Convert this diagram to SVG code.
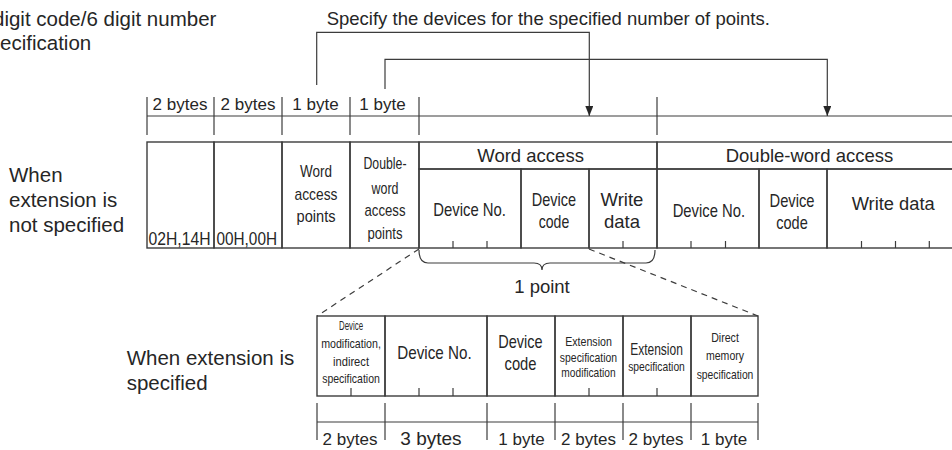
<svg xmlns="http://www.w3.org/2000/svg" width="952" height="450" viewBox="0 0 952 450">
<style>
text{font-family:"Liberation Sans",Arial,Helvetica,sans-serif;fill:#262626}
.c{text-anchor:middle}
.b{stroke:#3c3c3c;stroke-width:1.4;fill:none}
.k{stroke:#3c3c3c;stroke-width:1.2;fill:none}
.d{stroke:#3c3c3c;stroke-width:1.2;fill:none;stroke-dasharray:6 5}
.f17{font-size:17px}
.f18{font-size:18.5px}
.f13{font-size:13px}
</style>
<defs>
<marker id="ah" viewBox="0 0 10 8" refX="10" refY="4" markerWidth="10" markerHeight="8" markerUnits="userSpaceOnUse" orient="auto">
<path d="M0,0 L10,4 L0,8 z" fill="#262626"/>
</marker>
</defs>

<g id="labels">
<text x="-7" y="26" style="font-size:20.5px">digit code/6 digit number</text>
<text x="-21.6" y="50" style="font-size:20.5px">specification</text>
<text x="326.7" y="25" class="f18">Specify the devices for the specified number of points.</text>
<text x="9" y="181.7" style="font-size:20.5px">When</text>
<text x="9" y="206.7" style="font-size:20.5px">extension is</text>
<text x="9" y="231.7" style="font-size:20.5px">not specified</text>
<text x="126.7" y="365" style="font-size:20.5px">When extension is</text>
<text x="126.7" y="390" style="font-size:20.5px">specified</text>
<text x="542" y="292.5" class="c f18">1 point</text>
</g>

<g id="top-bytes">
<line class="k" x1="147" y1="116" x2="952" y2="116"/>
<line class="k" x1="147" y1="97" x2="147" y2="135"/>
<line class="k" x1="214" y1="97" x2="214" y2="135"/>
<line class="k" x1="282" y1="97" x2="282" y2="135"/>
<line class="k" x1="350" y1="97" x2="350" y2="135"/>
<line class="k" x1="419" y1="97" x2="419" y2="135"/>
<line class="k" x1="657" y1="97" x2="657" y2="135"/>
<text x="180" y="109.5" class="c f17">2 bytes</text>
<text x="248" y="109.5" class="c f17">2 bytes</text>
<text x="315.5" y="109.5" class="c f17">1 byte</text>
<text x="382.5" y="109.5" class="c f17">1 byte</text>
</g>

<g id="n-0214">
<rect class="b" x="147" y="142" width="67" height="106"/>
<text x="148.5" y="245" textLength="62" lengthAdjust="spacingAndGlyphs" style="font-size:19px">02H,14H</text>
</g>
<g id="n-0000">
<rect class="b" x="214" y="142" width="68" height="106"/>
<text x="216.5" y="245" textLength="60.5" lengthAdjust="spacingAndGlyphs" style="font-size:19px">00H,00H</text>
</g>
<g id="n-wap">
<rect class="b" x="282" y="142" width="68" height="106"/>
<text x="316" y="176.7" class="c" style="font-size:17px" textLength="32" lengthAdjust="spacingAndGlyphs">Word</text>
<text x="316" y="199.5" class="c" style="font-size:17px" textLength="43" lengthAdjust="spacingAndGlyphs">access</text>
<text x="316" y="222" class="c" style="font-size:17px" textLength="39" lengthAdjust="spacingAndGlyphs">points</text>
</g>
<g id="n-dwap">
<rect class="b" x="350" y="142" width="69" height="106"/>
<text x="385" y="169.3" class="c" style="font-size:17px" textLength="43" lengthAdjust="spacingAndGlyphs">Double-</text>
<text x="385" y="193.5" class="c" style="font-size:17px" textLength="27" lengthAdjust="spacingAndGlyphs">word</text>
<text x="385" y="216" class="c" style="font-size:17px" textLength="41" lengthAdjust="spacingAndGlyphs">access</text>
<text x="385" y="238.7" class="c" style="font-size:17px" textLength="35" lengthAdjust="spacingAndGlyphs">points</text>
</g>

<g id="n-word-access">
<rect class="b" x="419" y="142" width="238" height="27"/>
<text x="477.3" y="161.7" class="f18">Word access</text>
</g>
<g id="n-wa-devno">
<rect class="b" x="419" y="169" width="102" height="79"/>
<line class="k" x1="453" y1="241" x2="453" y2="248"/>
<line class="k" x1="487" y1="241" x2="487" y2="248"/>
<text x="433.3" y="216" style="font-size:19px" textLength="72.7" lengthAdjust="spacingAndGlyphs">Device No.</text>
</g>
<g id="n-wa-devcode">
<rect class="b" x="521" y="169" width="68" height="79"/>
<text x="554" y="205.7" class="c" style="font-size:19px" textLength="44.3" lengthAdjust="spacingAndGlyphs">Device</text>
<text x="554" y="228.3" class="c" style="font-size:19px" textLength="30.5" lengthAdjust="spacingAndGlyphs">code</text>
</g>
<g id="n-wa-write">
<rect class="b" x="589" y="169" width="68" height="79"/>
<line class="k" x1="623" y1="241" x2="623" y2="248"/>
<text x="622" y="205.7" class="c f18">Write</text>
<text x="622" y="228.3" class="c f18">data</text>
</g>

<g id="n-dw-access">
<rect class="b" x="657" y="142" width="306" height="27"/>
<text x="725.7" y="161.7" class="f18">Double-word access</text>
</g>
<g id="n-dw-devno">
<rect class="b" x="657" y="169" width="102" height="79"/>
<line class="k" x1="691" y1="241" x2="691" y2="248"/>
<line class="k" x1="725.5" y1="241" x2="725.5" y2="248"/>
<text x="672.7" y="216.7" style="font-size:19px" textLength="72.3" lengthAdjust="spacingAndGlyphs">Device No.</text>
</g>
<g id="n-dw-devcode">
<rect class="b" x="759" y="169" width="68" height="79"/>
<text x="792" y="206.7" class="c" style="font-size:19px" textLength="45" lengthAdjust="spacingAndGlyphs">Device</text>
<text x="792" y="229.3" class="c" style="font-size:19px" textLength="31.5" lengthAdjust="spacingAndGlyphs">code</text>
</g>
<g id="n-dw-write">
<rect class="b" x="827" y="169" width="136" height="79"/>
<line class="k" x1="861.5" y1="241" x2="861.5" y2="248"/>
<line class="k" x1="895.5" y1="241" x2="895.5" y2="248"/>
<line class="k" x1="929.3" y1="241" x2="929.3" y2="248"/>
<text x="851.7" y="210" style="font-size:18.3px">Write data</text>
</g>

<g id="n-ext-devmod">
<rect class="b" x="317" y="316" width="68" height="80"/>
<line class="k" x1="351" y1="388" x2="351" y2="396"/>
<text x="351" y="330" class="c" style="font-size:12.5px" textLength="24" lengthAdjust="spacingAndGlyphs">Device</text>
<text x="351" y="348" class="c f13" textLength="59.7" lengthAdjust="spacingAndGlyphs">modification,</text>
<text x="351" y="365.7" class="c f13" textLength="36" lengthAdjust="spacingAndGlyphs">indirect</text>
<text x="351" y="383.3" class="c f13" textLength="57.7" lengthAdjust="spacingAndGlyphs">specification</text>
</g>
<g id="n-ext-devno">
<rect class="b" x="385" y="316" width="102" height="80"/>
<line class="k" x1="419" y1="388" x2="419" y2="396"/>
<line class="k" x1="453" y1="388" x2="453" y2="396"/>
<text x="397.3" y="359.3" style="font-size:19px" textLength="74.3" lengthAdjust="spacingAndGlyphs">Device No.</text>
</g>
<g id="n-ext-devcode">
<rect class="b" x="487" y="316" width="68" height="80"/>
<text x="520.5" y="348.3" class="c" style="font-size:19px" textLength="44.3" lengthAdjust="spacingAndGlyphs">Device</text>
<text x="520.5" y="370" class="c" style="font-size:19px" textLength="32" lengthAdjust="spacingAndGlyphs">code</text>
</g>
<g id="n-ext-specmod">
<rect class="b" x="555" y="316" width="68" height="80"/>
<line class="k" x1="589" y1="388" x2="589" y2="396"/>
<text x="588.5" y="346" class="c f13" textLength="46.7" lengthAdjust="spacingAndGlyphs">Extension</text>
<text x="588.5" y="361.7" class="c f13" textLength="57.3" lengthAdjust="spacingAndGlyphs">specification</text>
<text x="588.5" y="377.4" class="c f13" textLength="54.3" lengthAdjust="spacingAndGlyphs">modification</text>
</g>
<g id="n-ext-spec">
<rect class="b" x="623" y="316" width="68" height="80"/>
<line class="k" x1="657" y1="388" x2="657" y2="396"/>
<text x="656.5" y="355" class="c" style="font-size:16.5px" textLength="52.7" lengthAdjust="spacingAndGlyphs">Extension</text>
<text x="656.5" y="370.7" class="c f13" textLength="56.7" lengthAdjust="spacingAndGlyphs">specification</text>
</g>
<g id="n-ext-direct">
<rect class="b" x="691" y="316" width="67" height="80"/>
<text x="725" y="341.7" class="c f13" textLength="27.7" lengthAdjust="spacingAndGlyphs">Direct</text>
<text x="725" y="359.5" class="c f13" textLength="38" lengthAdjust="spacingAndGlyphs">memory</text>
<text x="725" y="378.5" class="c f13" textLength="56.7" lengthAdjust="spacingAndGlyphs">specification</text>
</g>

<g id="bottom-bytes">
<line class="k" x1="317" y1="422" x2="758" y2="422"/>
<line class="k" x1="317" y1="403" x2="317" y2="440"/>
<line class="k" x1="385" y1="403" x2="385" y2="440"/>
<line class="k" x1="487" y1="403" x2="487" y2="440"/>
<line class="k" x1="555" y1="403" x2="555" y2="440"/>
<line class="k" x1="623" y1="403" x2="623" y2="440"/>
<line class="k" x1="691" y1="403" x2="691" y2="440"/>
<line class="k" x1="758" y1="403" x2="758" y2="440"/>
<text x="350" y="444.5" class="c f17">2 bytes</text>
<text x="431" y="444.5" class="c" style="font-size:19px">3 bytes</text>
<text x="521.5" y="444.5" class="c f17">1 byte</text>
<text x="588.5" y="444.5" class="c f17">2 bytes</text>
<text x="656" y="444.5" class="c f17">2 bytes</text>
<text x="724" y="444.5" class="c f17">1 byte</text>
</g>

<g id="connectors">
<polyline class="k" points="316.7,85 316.7,32.3 589.3,32.3 589.3,116" marker-end="url(#ah)"/>
<polyline class="k" points="385,89 385,59.3 827.3,59.3 827.3,116" marker-end="url(#ah)"/>
<line class="d" x1="419" y1="249" x2="317" y2="316"/>
<line class="d" x1="589" y1="249" x2="758" y2="316"/>
<path class="k" d="M419,250 Q419,263 428,263 L534,263 Q542,263 542,270 Q542,263 550,263 L646,263 Q655,263 655,250"/>
</g>
</svg>
